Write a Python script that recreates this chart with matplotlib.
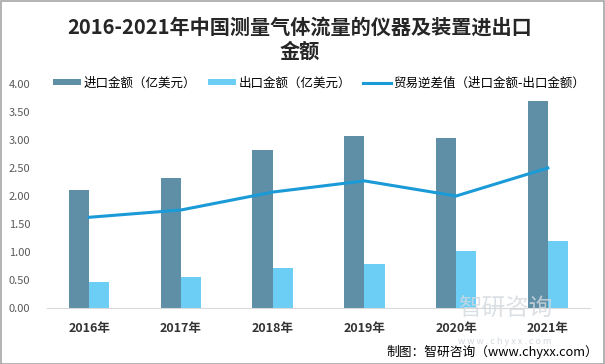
import matplotlib
matplotlib.use("Agg")
import matplotlib.pyplot as plt
import numpy as np
from matplotlib.patches import Rectangle

plt.rcParams['font.family'] = ['Noto Sans CJK SC', 'DejaVu Sans']

years = ["2016年", "2017年", "2018年", "2019年", "2020年", "2021年"]
imports = [2.11, 2.32, 2.82, 3.07, 3.04, 3.70]
exports = [0.46, 0.55, 0.71, 0.79, 1.02, 1.20]
balance = [1.62, 1.75, 2.07, 2.27, 2.00, 2.50]
yticks = [0.0, 0.5, 1.0, 1.5, 2.0, 2.5, 3.0, 3.5, 4.0]

c_imp = "#5E8FA7"
c_exp = "#6CCEF5"
c_line = "#1A9AD6"

fig = plt.figure(figsize=(6.05, 3.64), dpi=100)
ax = fig.add_axes([47/605, (364-308)/364, (590-47)/605, (308-84)/364])

x = np.arange(len(years))
w = 0.22
b1 = ax.bar(x - w/2, imports, width=w, color=c_imp, label="进口金额（亿美元）", zorder=2)
b2 = ax.bar(x + w/2, exports, width=w, color=c_exp, label="出口金额（亿美元）", zorder=2)
l1, = ax.plot(x, balance, color=c_line, linewidth=2.2, label="贸易逆差值（进口金额-出口金额）", zorder=3)

ax.set_xlim(-0.46, 5.46)
ax.set_ylim(0, 4.0)
ax.set_yticks(yticks)
ax.set_yticklabels([f"{v:.2f}" for v in yticks], color="#595959", fontsize=8)
ax.set_xticks(x)
ax.set_xticklabels(years, fontsize=9, fontweight='bold', color="#333333")
ax.tick_params(axis='both', length=0)
ax.tick_params(axis='x', pad=10)
ax.tick_params(axis='y', pad=12)
for s in ['top', 'right', 'left']:
    ax.spines[s].set_visible(False)
ax.spines['bottom'].set_color("#D9D9D9")

fig.text(300/605, 1 - 27/364, "2016-2021年中国测量气体流量的仪器及装置进出口", ha='center', va='center',
         fontsize=14.5, fontweight='bold', color="#262626")
fig.text(300/605, 1 - 51/364, "金额", ha='center', va='center',
         fontsize=14.5, fontweight='bold', color="#262626")

leg = fig.legend([b1, b2, l1], [b1.get_label(), b2.get_label(), l1.get_label()],
                 loc='center left', bbox_to_anchor=(42/605, 1 - 83/364), ncol=3, frameon=False,
                 fontsize=9, handlelength=2.2, handleheight=0.45, columnspacing=1.0, handletextpad=0.2)

fig.text(505/605, 1 - 309/364, "智研咨询", ha='center', va='center', fontsize=17, color="#D3D9DF", alpha=0.8, zorder=0)
fig.text(505/605, 1 - 341/364, "w w w . c h y x x . c o m", ha='center', va='center', fontsize=6.5, color="#D3D9DF", zorder=0)
fig.text(598/605, 1 - 352/364, "制图：智研咨询（www.chyxx.com）", ha='right', va='center', fontsize=9.2, color="#000000")

fig.patches.append(Rectangle((0.001, 0.001), 0.997, 0.997, transform=fig.transFigure, fill=False,
                             edgecolor="#A6A6A6", linewidth=1.2))

fig.savefig("out.png", dpi=100)
